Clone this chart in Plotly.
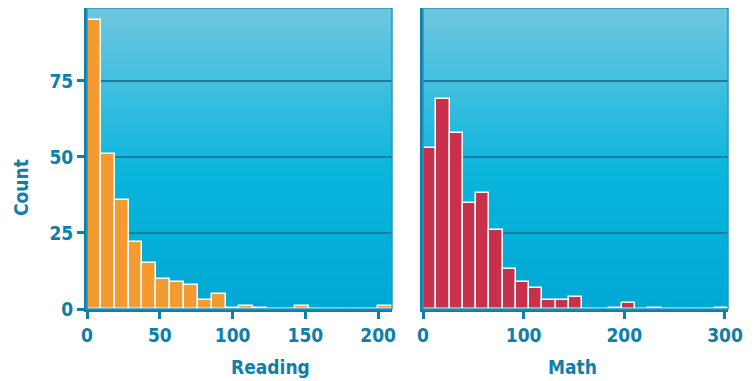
import plotly.graph_objects as go

# ---- data ----
reading_bin_start = 0.0
reading_bin_width = 9.52
reading_counts = [95, 51, 36, 22, 15, 10, 9, 8, 3, 5, 0.2, 1, 0.2, 0, 0, 1, 0, 0, 0, 0, 0, 1]

math_bin_start = 0.0
math_bin_width = 13.17
math_counts = [53, 69, 58, 35, 38, 26, 13, 9, 7, 3, 3, 4, 0, 0, 0.2, 2, 0, 0.2, 0, 0, 0, 0, 0.2]

reading_ticks = [0, 50, 100, 150, 200]
math_ticks = [0, 100, 200, 300]
count_ticks = [0, 25, 50, 75]

# ---- styling ----
TEAL = "#0f7ea8"
GRID = "#1a7c9e"
FONT = "Liberation Sans Narrow, DejaVu Sans Condensed, Arial Narrow, sans-serif"
FSIZE = 19
ORANGE = "#f39a31"
RED = "#c8304c"
W, H = 754, 381
OFF = 8  # page body margin offset


def edges(start, width, n):
    return [start + i * width for i in range(n)]


fig = go.Figure()
fig.add_trace(go.Bar(
    x=edges(reading_bin_start, reading_bin_width, len(reading_counts)),
    y=reading_counts, width=reading_bin_width, offset=0,
    marker=dict(color=ORANGE, line=dict(color="white", width=1.5)),
    xaxis="x", yaxis="y", showlegend=False))
fig.add_trace(go.Bar(
    x=edges(math_bin_start, math_bin_width, len(math_counts)),
    y=math_counts, width=math_bin_width, offset=0,
    marker=dict(color=RED, line=dict(color="white", width=1.5)),
    xaxis="x2", yaxis="y2", showlegend=False))


def lerp(c1, c2, t):
    return tuple(round(a + (b - a) * t) for a, b in zip(c1, c2))


top = (110, 199, 225)
mid = (10, 181, 220)
bot = (0, 168, 212)
shapes = []
N = 60
for xr, yr in (("x domain", "y domain"), ("x2 domain", "y2 domain")):
    for i in range(N):
        t = i / (N - 1)  # 0 bottom -> 1 top
        if t < 0.45:
            c = lerp(bot, mid, t / 0.45)
        else:
            c = lerp(mid, top, (t - 0.45) / 0.55)
        shapes.append(dict(type="rect", xref=xr, yref=yr, x0=0, x1=1,
                           y0=i / N, y1=min(1, (i + 1) / N + 0.012),
                           fillcolor="rgb(%d,%d,%d)" % c, line=dict(width=0),
                           layer="below"))
    shapes.append(dict(type="rect", xref=xr, yref=yr, x0=0, x1=1, y0=0, y1=1,
                       fillcolor="rgba(0,0,0,0)",
                       line=dict(color="#2a95bd", width=1.5), layer="above"))


def px_x(x):
    return (x - OFF) / W


def px_y(y):
    return 1 - (y - OFF) / H


xd1 = [px_x(87), px_x(392)]
xd2 = [px_x(423), px_x(728)]
yd = [px_y(309), px_y(8)]

tickfont = dict(family=FONT, size=FSIZE, color=TEAL, weight="bold")
axis_common = dict(showline=True, linecolor=TEAL, linewidth=3,
                   ticks="outside", ticklen=7, tickwidth=2.5, tickcolor=TEAL,
                   tickfont=tickfont, automargin=False,
                   showgrid=False, zeroline=False)

fig.update_layout(
    template="none",
    width=W, height=H,
    margin=dict(l=0, r=0, t=0, b=0, pad=0),
    paper_bgcolor="white", plot_bgcolor="rgba(0,0,0,0)",
    bargap=0, shapes=shapes,
    font=dict(family=FONT, color=TEAL),
    xaxis=dict(domain=xd1, range=[0, 209.5], tickvals=reading_ticks,
               anchor="y", **axis_common),
    yaxis=dict(domain=yd, range=[0, 99], anchor="x",
               **{**axis_common, "showgrid": True, "gridcolor": GRID, "gridwidth": 1.5},
               tickvals=count_ticks),
    xaxis2=dict(domain=xd2, range=[0, 303], tickvals=math_ticks,
                anchor="y2", **axis_common),
    yaxis2=dict(domain=yd, range=[0, 99], anchor="x2",
                **{**axis_common, "showgrid": True, "gridcolor": GRID, "gridwidth": 1.5,
                   "ticks": "", "showticklabels": False},
                tickvals=count_ticks),
    annotations=[
        dict(text="Reading", xref="paper", yref="paper", x=px_x(270), y=px_y(367),
             showarrow=False, font=tickfont, xanchor="center", yanchor="middle"),
        dict(text="Math", xref="paper", yref="paper", x=px_x(572.5), y=px_y(367),
             showarrow=False, font=tickfont, xanchor="center", yanchor="middle"),
        dict(text="Count", xref="paper", yref="paper", x=px_x(21), y=px_y(188),
             textangle=-90, showarrow=False, font=tickfont,
             xanchor="center", yanchor="middle"),
    ],
)

fig.write_html("out.html")
